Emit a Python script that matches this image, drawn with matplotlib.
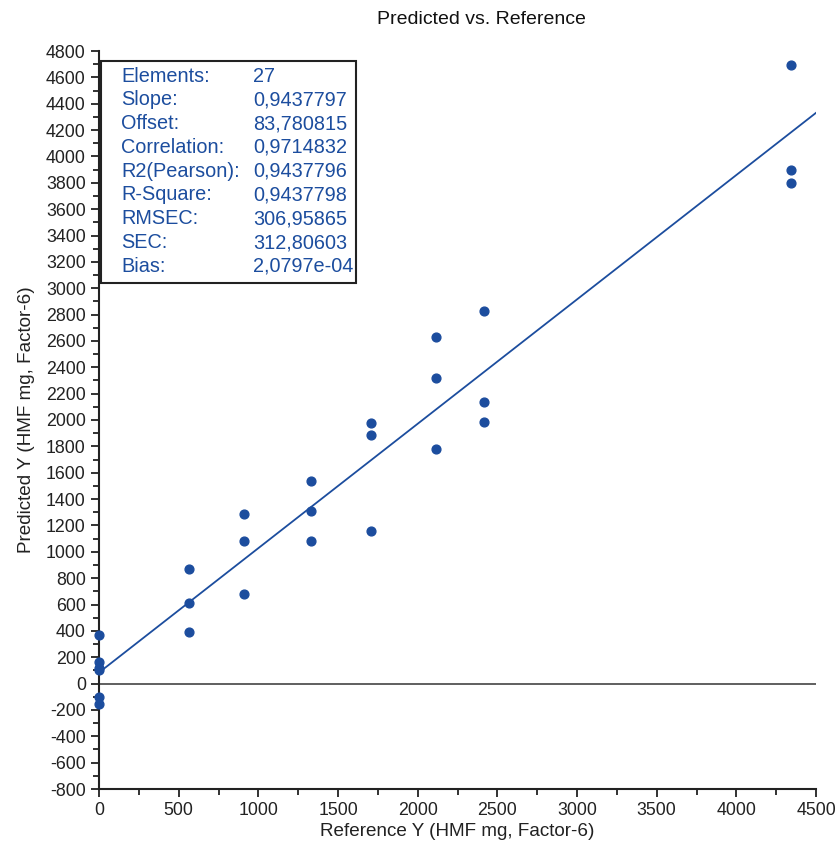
import matplotlib.pyplot as plt
import numpy as np
from matplotlib.ticker import MultipleLocator

# reference vs predicted values (HMF mg)
ref_y = [0, 0, 0, 0, 0, 0,
         565, 565, 565,
         910, 910, 910,
         1330, 1330, 1330,
         1705, 1705, 1705,
         2115, 2115, 2115,
         2415, 2415, 2415,
         4340, 4340, 4340]
pred_y = [365, 160, 115, 103, -104, -157,
          870, 612, 393,
          1287, 1080, 677,
          1537, 1313, 1080,
          1977, 1885, 1160,
          2630, 2320, 1782,
          2830, 2133, 1988,
          4690, 3898, 3795]

stat_names = ["Elements:", "Slope:", "Offset:", "Correlation:", "R2(Pearson):",
              "R-Square:", "RMSEC:", "SEC:", "Bias:"]
stat_values = ["27", "0,9437797", "83,780815", "0,9714832", "0,9437796",
               "0,9437798", "306,95865", "312,80603", "2,0797e-04"]
slope = 0.9437797
offset = 83.780815

blue = "#1c4d9e"
plt.rcParams['font.family'] = ['Liberation Sans', 'DejaVu Sans']
plt.rcParams['axes.unicode_minus'] = False

fig = plt.figure(figsize=(8.38, 8.43), dpi=100)
ax = fig.add_axes([99 / 838, 1 - 789 / 843, 717 / 838, 738 / 843])

# fit line and zero line
xl = np.array([0, 4500])
ax.plot(xl, slope * xl + offset, color=blue, lw=1.3, zorder=2)
ax.axhline(0, color="#444444", lw=1.2, zorder=1)
ax.scatter(ref_y, pred_y, s=40, color=blue, zorder=3, clip_on=False)

ax.set_xlim(0, 4500)
ax.set_ylim(-800, 4800)
ax.xaxis.set_major_locator(MultipleLocator(500))
ax.xaxis.set_minor_locator(MultipleLocator(250))
ax.yaxis.set_major_locator(MultipleLocator(200))
ax.yaxis.set_minor_locator(MultipleLocator(100))
ax.tick_params(which="major", length=6, width=1.3, labelsize=12.8, colors="#222222")
ax.tick_params(which="minor", length=4, width=1.3, colors="#222222")
ax.spines["top"].set_visible(False)
ax.spines["right"].set_visible(False)
for s in ("left", "bottom"):
    ax.spines[s].set_linewidth(1.5)
    ax.spines[s].set_color("#222222")

ax.set_xlabel("Reference Y (HMF mg, Factor-6)", fontsize=13.6, color="#222222", labelpad=3)
ax.set_ylabel("Predicted Y (HMF mg, Factor-6)", fontsize=13.6, color="#222222", labelpad=8)
fig.text(481 / 838, 1 - 19 / 843, "Predicted vs. Reference", ha="center", va="center",
         fontsize=14, color="#111111")

# statistics box
box = plt.Rectangle((101 / 838, 1 - 283 / 843), 255 / 838, 222 / 843,
                    transform=fig.transFigure, facecolor="white",
                    edgecolor="#222222", lw=1.5, zorder=5)
fig.patches.append(box)
for i, (n, v) in enumerate(zip(stat_names, stat_values)):
    y = 1 - (76 + i * 23.8) / 843
    fig.text(121 / 838, y, n, ha="left", va="center", fontsize=14.3, color=blue, zorder=6)
    fig.text(253 / 838, y, v, ha="left", va="center", fontsize=14.3, color=blue, zorder=6)

fig.savefig("out.png", dpi=100)
